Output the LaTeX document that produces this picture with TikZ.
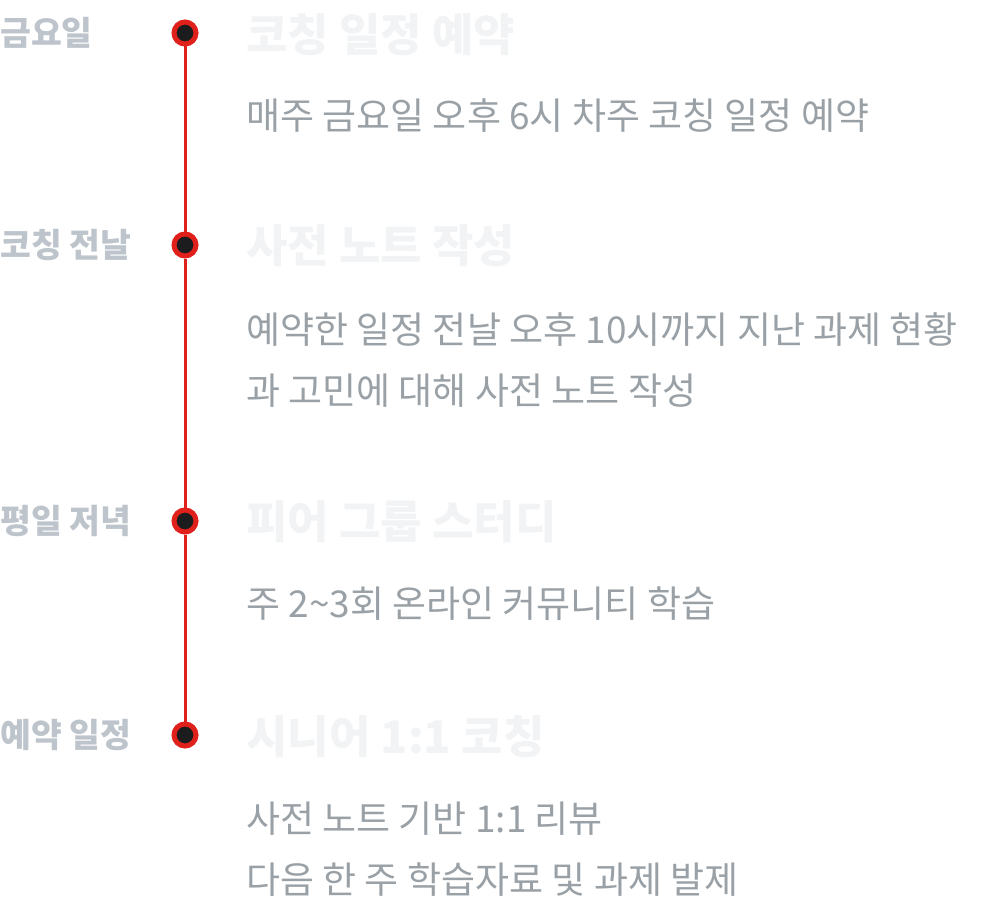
\documentclass[tikz,border=0pt]{standalone}
\usepackage{fontspec}
\setmainfont{Noto Sans CJK KR}
\definecolor{lblgray}{HTML}{BDC4CB}
\definecolor{ttlgray}{HTML}{F1F3F5}
\definecolor{bodygray}{HTML}{9AA1A6}
\definecolor{dotred}{HTML}{E0201B}
\definecolor{dotblack}{HTML}{1C1C1E}
\begin{document}
\begin{tikzpicture}[x=1pt,y=-1pt,
  lbl/.style={anchor=west, inner sep=0pt, font=\fontsize{33.5}{40}\selectfont\bfseries, text=lblgray},
  ttl/.style={anchor=west, inner sep=0pt, font=\fontsize{45}{54}\selectfont\bfseries, text=ttlgray},
  body/.style={anchor=west, inner sep=0pt, align=left, font=\fontsize{37}{61}\selectfont, text=bodygray},
  tdot/.style={circle, fill=dotblack, draw=dotred, line width=5pt, minimum size=22pt, inner sep=0pt},
  tline/.style={draw=dotred, line width=3pt}]
\useasboundingbox (0,0) rectangle (990,912);
% dots
\node[tdot] (d1) at (185,33) {};
\node[tdot] (d2) at (185,245) {};
\node[tdot] (d3) at (185,521) {};
\node[tdot] (d4) at (185,735) {};
\draw[tline] (d1) -- (d2) -- (d3) -- (d4);
% labels
\node[lbl] (l1) at (0,33) {금요일};
\node[lbl] (l2) at (0,245) {코칭 전날};
\node[lbl] (l3) at (0,521) {평일 저녁};
\node[lbl] (l4) at (0,735) {예약 일정};
% titles
\node[ttl] (t1) at (246,35) {코칭 일정 예약};
\node[ttl] (t2) at (246,246) {사전 노트 작성};
\node[ttl] (t3) at (246,522) {피어 그룹 스터디};
\node[ttl] (t4) at (246,737) {시니어 1:1 코칭};
% bodies
\node[body] (b1) at (246,116) {매주 금요일 오후 6시 차주 코칭 일정 예약};
\node[body] (b2) at (246,360) {예약한 일정 전날 오후 10시까지 지난 과제 현황\\과 고민에 대해 사전 노트 작성};
\node[body] (b3) at (246,604) {주 2\textasciitilde3회 온라인 커뮤니티 학습};
\node[body] (b4) at (246,849) {사전 노트 기반 1:1 리뷰\\다음 한 주 학습자료 및 과제 발제};
\end{tikzpicture}
\end{document}
